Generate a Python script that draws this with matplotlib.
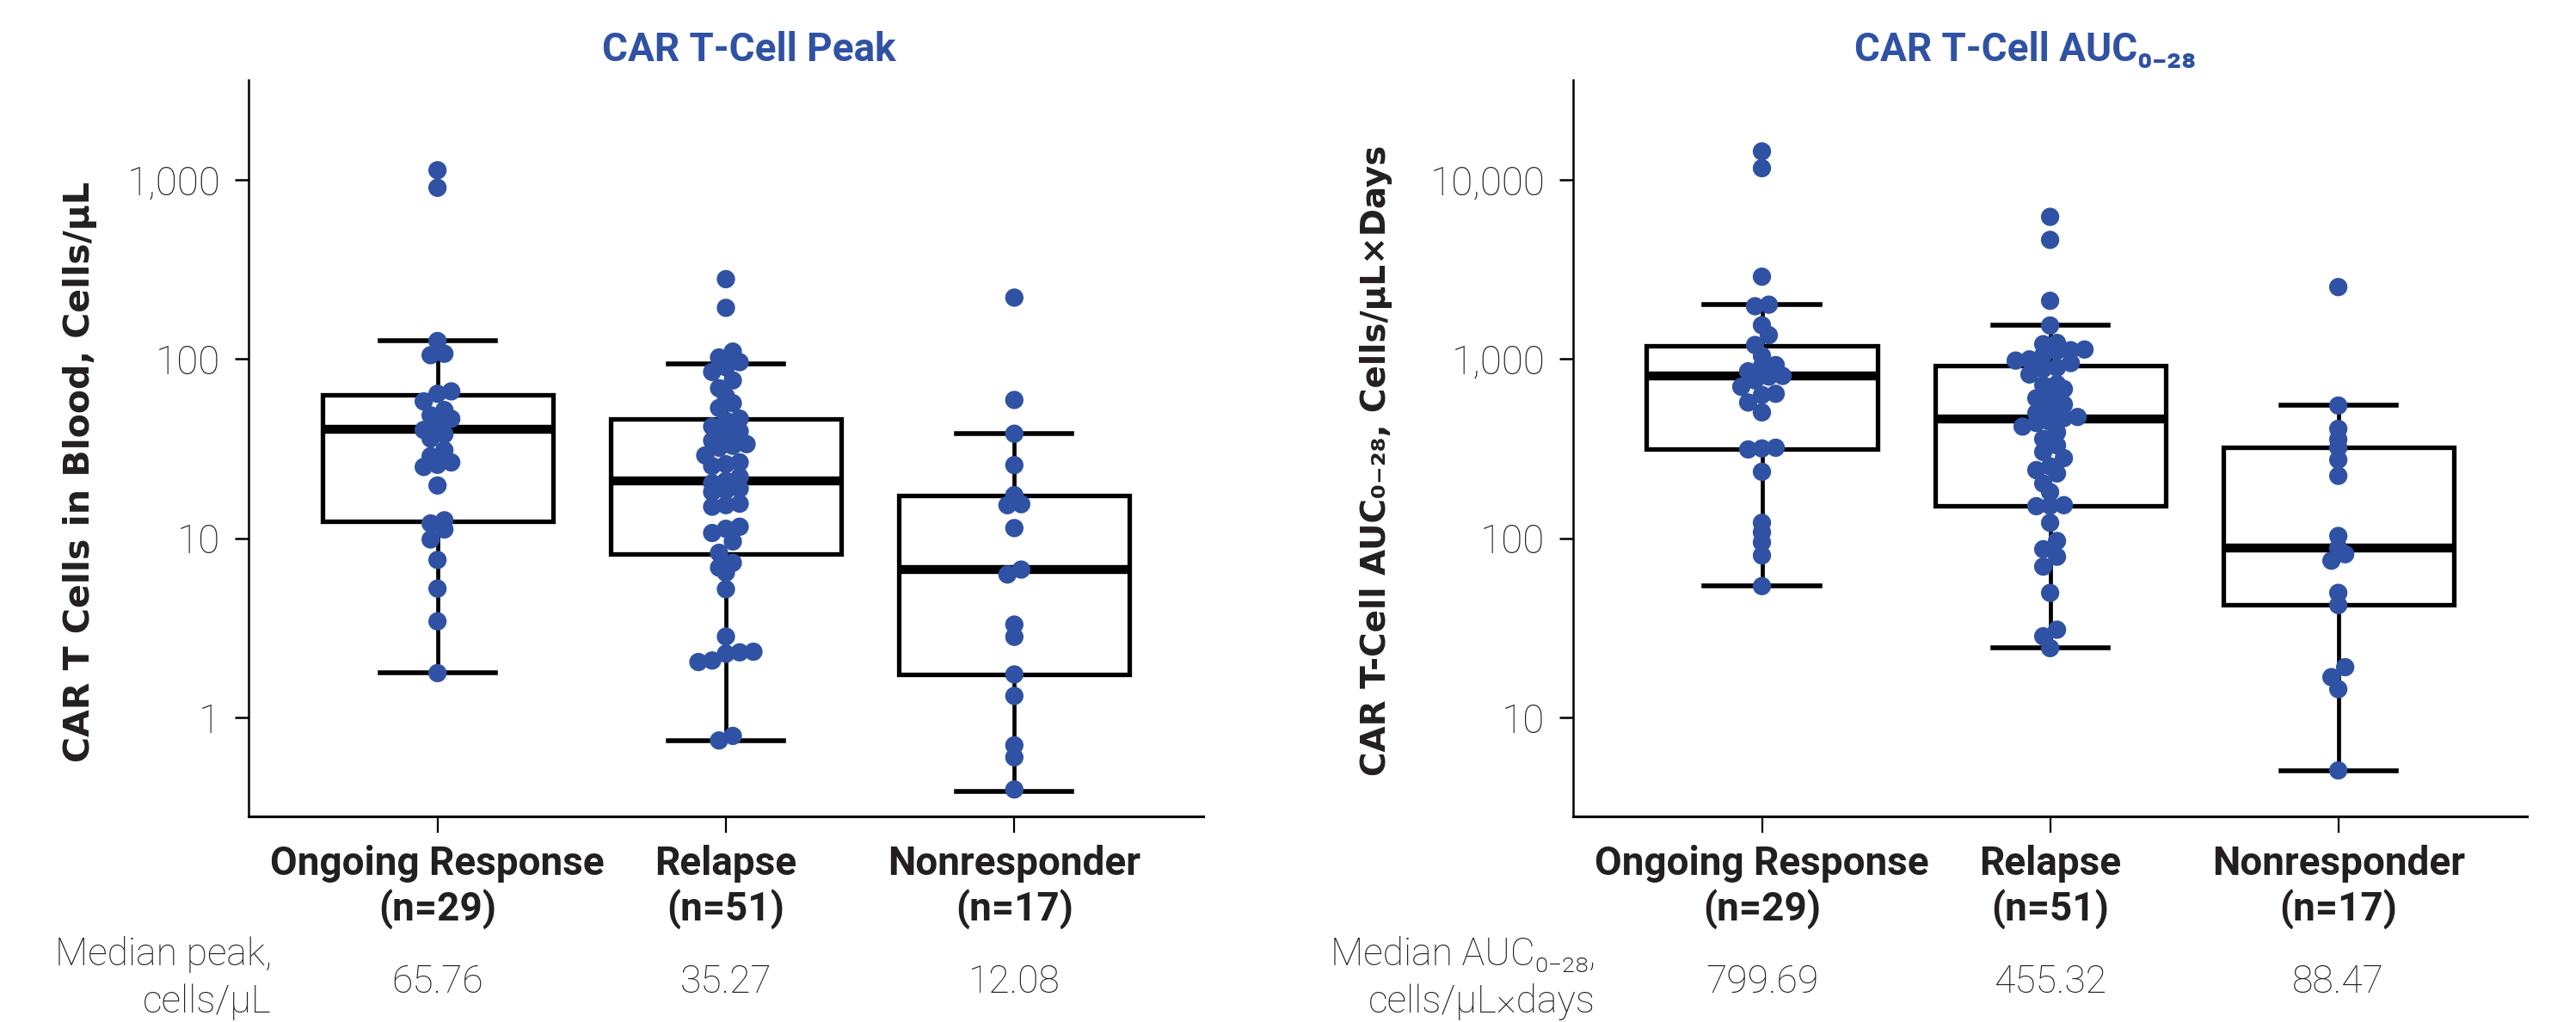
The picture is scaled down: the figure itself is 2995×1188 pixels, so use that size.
import numpy as np
import matplotlib.pyplot as plt
import matplotlib.transforms as mtransforms
from matplotlib.ticker import FixedLocator, FuncFormatter, NullLocator

# ---- data ----
groups = ['Ongoing Response\n(n=29)', 'Relapse\n(n=51)', 'Nonresponder\n(n=17)']

peak_ongoing = [1130, 902, 126, 107, 105, 66, 64, 58, 51.9, 48.5, 46.4, 43, 40.2, 38,
                36, 31, 28.7, 26.5, 25.7, 25, 19.7, 12.6, 12.1, 11.2, 9.85, 7.57, 5.24,
                3.44, 1.77]
peak_relapse = [279, 193, 110, 102, 96, 90, 84.7, 76, 68.7, 62, 56.7, 53.3, 46.5, 45.3,
                42, 39.5, 38.2, 35, 33.5, 32.8, 32, 29, 26.5, 25.9, 25.3, 22, 20.9, 20.3,
                18.9, 18.5, 18.1, 15.6, 15.3, 15.0, 11.6, 11.3, 10.7, 9.6, 8.3, 7.3,
                6.86, 6.43, 5.2, 2.83, 2.33, 2.31, 2.27, 2.08, 2.04, 0.79, 0.745]
peak_nonresp = [220, 59.1, 38.3, 25.6, 17.4, 15.5, 15.3, 11.4, 6.69, 6.28, 3.30, 2.82,
                1.74, 1.32, 0.70, 0.60, 0.397]

auc_ongoing = [14400, 11600, 2880, 2010, 1970, 1543, 1358, 1197, 1042, 925, 910, 854,
               805, 798, 760, 700, 640, 630, 572, 504, 320, 317, 313, 235, 122, 108,
               94.9, 80.2, 54.1]
auc_relapse = [6210, 4620, 2112, 1538, 1230, 1210, 1130, 1120, 1110, 1050, 995, 980,
               950, 895, 880, 820, 725, 715, 680, 610, 604, 558, 540, 500, 475, 468,
               445, 440, 420, 390, 358, 330, 303, 280, 252, 240, 230, 202, 181, 153,
               152, 151, 122, 96.6, 86.9, 78.9, 69.5, 49.6, 30.9, 28.4, 24.4]
auc_nonresp = [2520, 550, 408, 356, 321, 274, 223, 103, 88.5, 81.5, 75, 49.6, 42.4,
               19.1, 16.8, 14.4, 5.07]

# box statistics as drawn
peak_q1 = [12.5, 8.2, 1.74]
peak_med = [40.4, 20.9, 6.69]
peak_q3 = [63.3, 46.3, 17.4]
peak_lo = [1.78, 0.745, 0.387]
peak_hi = [126, 94.1, 38.3]

auc_q1 = [313, 152, 42.4]
auc_med = [802, 461, 88.5]
auc_q3 = [1190, 920, 321]
auc_lo = [54.1, 24.4, 5.07]
auc_hi = [2004, 1538, 550]

median_peak_txt = ['65.76', '35.27', '12.08']
median_auc_txt = ['799.69', '455.32', '88.47']

BLUE = '#3052a4'
INK = '#231f20'
BOLD = ['Roboto', 'DejaVu Sans']
LABEL_FONT = ['DejaVu Sans']


def swarm_x(ax, center, vals, step_px=16, bin_px=16):
    vals = np.asarray(vals, float)
    pts = ax.transData.transform(np.column_stack([np.full(len(vals), center), vals]))
    ypx = pts[:, 1]
    x0 = pts[0, 0]
    bins = np.floor(ypx / bin_px).astype(int)
    xpx = np.zeros(len(vals))
    for b in np.unique(bins):
        idx = np.where(bins == b)[0]
        idx = idx[np.argsort(vals[idx])]
        n = len(idx)
        xpx[idx] = x0 + (np.arange(n) - (n - 1) / 2) * step_px
    inv = ax.transData.inverted()
    return inv.transform(np.column_stack([xpx, ypx]))[:, 0]


def panel(ax, series, q1, med, q3, lo, hi, ylim):
    ax.set_yscale('log')
    ax.set_xlim(-0.655, 2.655)
    ax.set_ylim(*ylim)

    stats = []
    for i in range(3):
        stats.append(dict(q1=q1[i], med=med[i], q3=q3[i], whislo=lo[i], whishi=hi[i],
                          fliers=[]))
    ax.bxp(stats, positions=[0, 1, 2], widths=0.8, capwidths=0.4, showfliers=False,
           patch_artist=True,
           boxprops=dict(facecolor='white', edgecolor='black', linewidth=3.8),
           medianprops=dict(color='black', linewidth=7.5, solid_capstyle='butt'),
           whiskerprops=dict(color='black', linewidth=3.4),
           capprops=dict(color='black', linewidth=4.0))

    for i, vals in enumerate(series):
        xs = swarm_x(ax, i, vals)
        ax.scatter(xs, vals, s=235, color=BLUE, edgecolor='none', zorder=5)

    ax.spines['top'].set_visible(False)
    ax.spines['right'].set_visible(False)
    ax.spines['left'].set_linewidth(1.8)
    ax.spines['bottom'].set_linewidth(2.2)

    lo_dec = int(np.ceil(np.log10(ylim[0])))
    hi_dec = int(np.floor(np.log10(ylim[1])))
    ax.yaxis.set_major_locator(FixedLocator([10.0 ** k for k in range(lo_dec, hi_dec + 1)]))
    ax.yaxis.set_minor_locator(NullLocator())
    ax.yaxis.set_major_formatter(FuncFormatter(lambda v, p: '{:,.0f}'.format(v)))
    ax.tick_params(axis='y', length=11.5, width=1.8, pad=12, labelsize=33,
                   labelcolor=INK)
    for t in ax.get_yticklabels():
        t.set_fontfamily('Roboto')
        t.set_fontweight('light')

    ax.set_xticks([0, 1, 2])
    ax.set_xticklabels(groups, fontsize=33, fontweight='bold', family=BOLD,
                       color=INK, linespacing=1.22)
    ax.tick_params(axis='x', length=13.7, width=1.6, pad=10)


fig = plt.figure(figsize=(29.95, 11.88), dpi=100)
ax1 = fig.add_axes([0.0965, 0.2012, 0.3706, 0.7205])
ax2 = fig.add_axes([0.6107, 0.2012, 0.3703, 0.7205])

panel(ax1, [peak_ongoing, peak_relapse, peak_nonresp],
      peak_q1, peak_med, peak_q3, peak_lo, peak_hi, (0.281, 3600))
panel(ax2, [auc_ongoing, auc_relapse, auc_nonresp],
      auc_q1, auc_med, auc_q3, auc_lo, auc_hi, (2.81, 36000))

# titles
fig.text(0.2908, 0.9402, 'CAR T-Cell Peak', ha='center', va='baseline',
         fontsize=33, fontweight='bold', color=BLUE, family=BOLD)
fig.text(0.7862, 0.9402, 'CAR T-Cell AUC\u2080\u208b\u2082\u2088', ha='center',
         va='baseline', fontsize=33, fontweight='bold', color=BLUE, family=BOLD)

# y labels
fig.text(0.0311, 0.5387, 'CAR T Cells in Blood, Cells/\u00b5L', rotation=90,
         ha='center', va='center', fontsize=29.5, fontweight='bold', color=INK,
         family=LABEL_FONT)
fig.text(0.5342, 0.5497, 'CAR T-Cell AUC\u2080\u208b\u2082\u2088, Cells/\u00b5L\u00d7Days',
         rotation=90, ha='center', va='center', fontsize=28, fontweight='bold',
         color=INK, family=LABEL_FONT)

# median rows
light = dict(fontsize=32, color=INK, family=['Roboto', 'DejaVu Sans'], fontweight='light')
fig.text(0.1055, 0.0555, 'Median peak,', ha='right', va='baseline', **light)
fig.text(0.1055, 0.0090, 'cells/\u00b5L', ha='right', va='baseline', **light)
fig.text(0.6194, 0.0555, 'Median AUC\u2080\u208b\u2082\u2088,', ha='right', va='baseline', **light)
fig.text(0.6194, 0.0090, 'cells/\u00b5L\u00d7days', ha='right', va='baseline', **light)

for ax, txts in [(ax1, median_peak_txt), (ax2, median_auc_txt)]:
    tr = mtransforms.blended_transform_factory(ax.transData, fig.transFigure)
    for i, s in enumerate(txts):
        ax.text(i, 0.0290, s, transform=tr, ha='center', va='baseline', **light)

fig.savefig('out.png', dpi=100)
plt.close(fig)
